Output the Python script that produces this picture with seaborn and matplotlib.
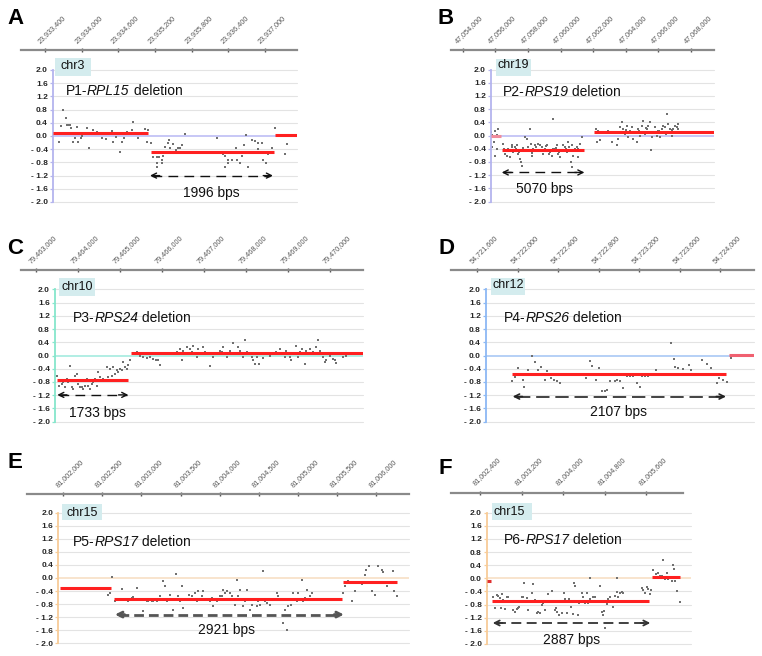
import numpy as np
import pandas as pd
import matplotlib
matplotlib.use("Agg")
import matplotlib.pyplot as plt
import seaborn as sns
from matplotlib.patches import Rectangle
from matplotlib.transforms import offset_copy

sns.set_theme(style="white")
plt.rcParams["font.family"] = ["Liberation Sans", "DejaVu Sans"]

W, H, DPI = 762, 656, 100

# ------------------------------------------------------------------ data
y_ticks = [2.0, 1.6, 1.2, 0.8, 0.4, 0.0, -0.4, -0.8, -1.2, -1.6, -2.0]
y_tick_labels = ["2.0", "1.6", "1.2", "0.8", "0.4", "0.0",
                 "- 0.4", "- 0.8", "- 1.2", "- 1.6", "- 2.0"]

# ---- A : P1 RPL15, chr3
A_chrom, A_patient, A_gene, A_size = "chr3", "P1", "RPL15", "1996 bps"
A_ticks = [23_933_400, 23_934_000, 23_934_600, 23_935_200, 23_935_800, 23_936_400, 23_937_000]
A_tick_labels = ["23,933,400", "23,934,000", "23,934,600", "23,935,200",
                 "23,935,800", "23,936,400", "23,937,000"]
A_pos = [23_933_629, 23_933_662, 23_933_699, 23_933_739, 23_933_755, 23_933_793, 23_933_809,
         23_933_825, 23_933_853, 23_933_891, 23_933_924, 23_933_945, 23_933_989, 23_934_010,
         23_934_082, 23_934_125, 23_934_180, 23_934_207, 23_934_246, 23_934_272, 23_934_328,
         23_934_400, 23_934_440, 23_934_491, 23_934_517, 23_934_557, 23_934_589, 23_934_627,
         23_934_665, 23_934_697, 23_934_737, 23_934_818, 23_934_835, 23_934_861, 23_934_926,
         23_935_036, 23_935_080, 23_935_064, 23_935_134,
         23_935_172, 23_935_227, 23_935_231, 23_935_240, 23_935_265, 23_935_309, 23_935_319,
         23_935_335, 23_935_363, 23_935_407, 23_935_434, 23_935_445, 23_935_499, 23_935_538,
         23_935_571, 23_935_609, 23_935_636, 23_935_690,
         23_936_209, 23_936_263, 23_936_312, 23_936_345, 23_936_389, 23_936_350, 23_936_395,
         23_936_454, 23_936_520, 23_936_536, 23_936_590, 23_936_618, 23_936_661, 23_936_689,
         23_936_716, 23_936_791, 23_936_836, 23_936_890, 23_936_880, 23_936_955, 23_936_972,
         23_937_011, 23_937_044, 23_937_081, 23_937_109, 23_937_163, 23_937_326, 23_937_354]
A_val = [-0.17, 0.30, 0.80, 0.54, 0.33, 0.33, 0.33,
         0.25, -0.17, -0.07, 0.27, -0.17, -0.07, 0.00,
         0.23, -0.37, 0.18, 0.05, 0.12, 0.08, -0.07,
         -0.10, 0.10, 0.16, -0.17, -0.03, 0.05, -0.47,
         -0.17, -0.07, 0.12, 0.18, 0.43, 0.06, -0.07,
         0.21, 0.18, -0.17, -0.20,
         -0.63, -0.63, -0.93, -0.83, -0.63, -0.72, -0.83,
         -0.60, -0.32, -0.22, -0.12, -0.37, -0.25, -0.42,
         -0.37, -0.37, -0.27, 0.05,
         -0.05, -0.47, -0.55, -0.60, -0.72, -0.93, -0.83,
         -0.72, -0.35, -0.72, -0.83, -0.60, -0.27, 0.03,
         -0.95, -0.12, -0.15, -0.22, -0.40, -0.22, -0.72,
         -0.83, -0.55, -0.50, -0.37, 0.23, -0.55, -0.25]
A_seg_start = [23_933_531, 23_935_134, 23_937_163]
A_seg_end = [23_935_085, 23_937_147, 23_937_523]
A_seg_val = [0.08, -0.49, 0.04]
A_arrow = [23_935_118, 23_937_130, -1.20]

# ---- B : P2 RPS19, chr19
B_chrom, B_patient, B_gene, B_size = "chr19", "P2", "RPS19", "5070 bps"
B_ticks = [47_054_000, 47_056_000, 47_058_000, 47_060_000, 47_062_000, 47_064_000, 47_066_000, 47_068_000]
B_tick_labels = ["47,054,000", "47,056,000", "47,058,000", "47,060,000",
                 "47,062,000", "47,064,000", "47,066,000", "47,068,000"]
B_pos = [47_055_736, 47_055_818, 47_055_879, 47_055_982, 47_056_084, 47_056_186, 47_055_941,
         47_055_818, 47_056_084, 47_055_982,
         47_056_493, 47_056_595, 47_056_697, 47_056_800, 47_056_902, 47_057_004, 47_057_106,
         47_057_209, 47_057_311, 47_057_413, 47_057_515, 47_057_577, 47_057_618, 47_057_720,
         47_057_822, 47_057_924, 47_058_027, 47_058_129, 47_058_190, 47_058_231, 47_058_333,
         47_058_436, 47_058_538, 47_058_640, 47_058_742, 47_058_845, 47_058_947, 47_059_049,
         47_059_151, 47_059_254, 47_059_356, 47_059_458, 47_059_560, 47_059_663, 47_059_765,
         47_059_867, 47_059_969, 47_060_072, 47_060_174, 47_060_276, 47_060_378, 47_060_481,
         47_060_583, 47_060_644, 47_060_685, 47_060_726, 47_060_787, 47_060_890, 47_060_992,
         47_061_094, 47_061_196, 47_061_299, 47_061_401,
         47_056_540, 47_056_750, 47_057_050, 47_057_260, 47_057_460, 47_057_680, 47_057_980,
         47_058_280, 47_058_490, 47_058_690, 47_058_900, 47_059_100, 47_059_300, 47_059_520,
         47_059_720, 47_059_920, 47_060_120, 47_060_330, 47_060_540, 47_060_840, 47_061_040,
         47_062_157, 47_062_219, 47_062_321, 47_062_423, 47_062_935, 47_063_139, 47_063_446,
         47_063_548, 47_063_650, 47_063_753, 47_063_855, 47_063_957, 47_064_059, 47_064_162,
         47_064_264, 47_064_366, 47_064_468, 47_064_571, 47_064_673, 47_064_775, 47_064_877,
         47_064_980, 47_065_082, 47_065_184, 47_065_286, 47_065_389, 47_065_491, 47_065_532,
         47_065_593, 47_065_695, 47_065_798, 47_065_900, 47_066_002, 47_066_104, 47_066_207,
         47_066_309, 47_066_411, 47_066_513, 47_066_575, 47_066_616, 47_066_718, 47_066_820,
         47_066_922, 47_067_025, 47_067_127, 47_067_188, 47_067_229,
         47_063_700, 47_064_000, 47_064_420, 47_064_820, 47_065_240, 47_065_640, 47_066_060,
         47_066_460, 47_066_860, 47_067_080]
B_val = [0.10, 0.02, -0.05, 0.15, 0.02, 0.20, -0.20,
         -0.35, -0.40, -0.61,
         -0.25, -0.56, -0.61, -0.40, -0.66, -0.30, -0.51,
         -0.35, -0.30, -0.56, -0.71, -0.81, -0.91, -0.45,
         -0.05, -0.10, -0.35, 0.20, -0.25, -0.61, -0.40,
         -0.30, -0.45, -0.25, -0.30, -0.35, -0.56, -0.40,
         -0.30, -0.45, -0.51, -0.61, 0.51, -0.40, -0.30,
         -0.56, -0.66, -0.45, -0.30, -0.35, -0.51, -0.20,
         -0.45, -0.81, -0.30, -0.96, -0.61, -0.40, -0.35,
         -0.66, -0.25, -0.05, -0.45,
         -0.40, -0.48, -0.35, -0.42, -0.50, -0.38, -0.46,
         -0.52, -0.36, -0.44, -0.48, -0.33, -0.55, -0.42,
         -0.38, -0.50, -0.44, -0.40, -0.36, -0.48, -0.42,
         0.20, -0.20, 0.15, -0.15, 0.15, -0.20, -0.30,
         -0.10, 0.25, 0.40, 0.20, 0.05, 0.30, -0.05,
         0.15, 0.25, -0.10, 0.10, -0.20, 0.20, 0.00,
         0.30, 0.45, 0.05, 0.20, 0.30, 0.40, -0.45,
         -0.05, 0.10, 0.25, 0.00, 0.15, -0.05, 0.20,
         0.30, 0.25, 0.66, 0.35, 0.10, 0.20, 0.00,
         0.20, 0.30, 0.25, 0.35, 0.20,
         0.12, 0.18, 0.08, 0.15, 0.22, 0.10, 0.14,
         0.05, 0.18, 0.12]
B_seg_start = [47_055_736, 47_056_393, 47_062_074]
B_seg_end = [47_056_350, 47_061_449, 47_069_418]
B_seg_val = [-0.03, -0.45, 0.10]
B_arrow = [47_056_393, 47_061_462, -1.12]

# ---- C : P3 RPS24, chr10
C_chrom, C_patient, C_gene, C_size = "chr10", "P3", "RPS24", "1733 bps"
C_ticks = [79_463_000, 79_464_000, 79_465_000, 79_466_000, 79_467_000, 79_468_000, 79_469_000, 79_470_000]
C_tick_labels = ["79,463,000", "79,464,000", "79,465,000", "79,466,000",
                 "79,467,000", "79,468,000", "79,469,000", "79,470,000"]
C_pos = [79_463_507, 79_463_555, 79_463_611, 79_463_650, 79_463_690, 79_463_730, 79_463_769,
         79_463_809, 79_463_848, 79_463_888, 79_463_928, 79_463_967, 79_464_007, 79_464_047,
         79_464_086, 79_464_126, 79_464_166, 79_464_205, 79_464_245, 79_464_285, 79_464_324,
         79_464_364, 79_464_404, 79_464_443, 79_464_483, 79_464_523, 79_464_562, 79_464_602,
         79_464_641, 79_464_681, 79_464_721, 79_464_760, 79_464_800, 79_464_840, 79_464_879,
         79_464_919, 79_464_959, 79_464_998, 79_465_038, 79_465_078, 79_465_117, 79_465_157,
         79_465_197, 79_465_236,
         79_465_411, 79_465_474, 79_465_553, 79_465_633, 79_465_712, 79_465_791, 79_465_855,
         79_465_910, 79_465_950, 79_466_029, 79_466_148, 79_466_346, 79_466_426, 79_466_465,
         79_466_505, 79_466_584, 79_466_664, 79_466_703, 79_466_743, 79_466_822, 79_466_862,
         79_466_941, 79_466_981, 79_467_020, 79_467_139, 79_467_219, 79_467_298, 79_467_377,
         79_467_417, 79_467_457, 79_467_536, 79_467_615, 79_467_679, 79_467_734, 79_467_813,
         79_467_853, 79_467_917, 79_467_972, 79_468_012, 79_468_091, 79_468_131, 79_468_170,
         79_468_210, 79_468_250, 79_468_313, 79_468_408, 79_468_488, 79_468_567, 79_468_646,
         79_468_725, 79_468_805, 79_468_884, 79_468_924, 79_468_963, 79_469_043, 79_469_082,
         79_469_122, 79_469_185, 79_469_241, 79_469_281, 79_469_344, 79_469_399, 79_469_439,
         79_469_518, 79_469_598, 79_469_677, 79_469_717, 79_469_756, 79_469_796, 79_469_836,
         79_469_875, 79_469_915, 79_469_994, 79_470_074, 79_470_113, 79_470_153, 79_470_232,
         79_470_311, 79_470_391, 79_470_430]
C_val = [-0.61, -0.91, -0.86, -0.81, -0.96, -0.71, -0.81,
         -0.32, -0.96, -1.01, -0.61, -0.56, -0.86, -0.96,
         -0.96, -1.01, -0.91, -0.71, -0.91, -1.01, -0.86,
         -0.81, -0.71, -0.91, -0.51, -0.66, -0.76, -0.71,
         -0.76, -0.35, -0.66, -0.40, -0.61, -0.35, -0.56,
         -0.45, -0.51, -0.40, -0.45, -0.20, -0.35, -0.40,
         -0.30, -0.15,
         0.10, -0.03, -0.05, -0.07, -0.05, -0.10, -0.15,
         -0.13, -0.30, 0.05, 0.05, 0.10, 0.20, -0.15,
         0.15, 0.25, 0.20, 0.10, 0.30, -0.05, 0.20,
         0.05, 0.25, 0.10, -0.33, -0.05, 0.05, 0.13,
         0.10, 0.25, -0.05, 0.15, 0.38, 0.05, 0.27,
         0.15, -0.05, 0.47, 0.10, 0.05, -0.05, -0.15,
         -0.25, -0.05, -0.27, -0.07, 0.05, 0.00, 0.05,
         0.10, 0.20, 0.05, -0.05, 0.15, -0.05, -0.15,
         0.05, 0.30, -0.05, 0.10, 0.20, -0.27, 0.15,
         0.20, 0.10, 0.25, 0.47, 0.15, 0.05, -0.05,
         -0.20, -0.15, 0.00, -0.10, -0.15, -0.23, 0.05,
         -0.05, 0.00, 0.05]
C_seg_start = [79_463_493, 79_465_261]
C_seg_end = [79_465_197, 79_470_783]
C_seg_val = [-0.74, 0.08]
C_arrow = [79_463_507, 79_465_197, -1.19]

# ---- D : P4 RPS26, chr12
D_chrom, D_patient, D_gene, D_size = "chr12", "P4", "RPS26", "2107 bps"
D_ticks = [54_721_600, 54_722_000, 54_722_400, 54_722_800, 54_723_200, 54_723_600, 54_724_000]
D_tick_labels = ["54,721,600", "54,722,000", "54,722,400", "54,722,800",
                 "54,723,200", "54,723,600", "54,724,000"]
D_pos = [54_721_942, 54_721_975, 54_722_002, 54_722_051, 54_722_067, 54_722_107, 54_722_140,
         54_722_173, 54_722_205, 54_722_232, 54_722_271, 54_722_294, 54_722_327, 54_722_360,
         54_722_393, 54_722_419, 54_722_643, 54_722_676, 54_722_715, 54_722_731, 54_722_774,
         54_722_807, 54_722_830, 54_722_863, 54_722_886, 54_722_912, 54_722_962, 54_722_978,
         54_723_011, 54_723_044, 54_723_077, 54_723_110, 54_723_142, 54_723_175, 54_723_208,
         54_723_225, 54_723_258, 54_723_290, 54_723_366, 54_723_511, 54_723_544, 54_723_553,
         54_723_586, 54_723_636, 54_723_695, 54_723_708, 54_723_817, 54_723_866, 54_723_905,
         54_723_964, 54_723_991, 54_724_030, 54_724_063, 54_724_106, 54_724_145]
D_val = [-0.76, -0.66, -0.37, -0.74, -0.94, -0.44, -0.03,
         -0.19, -0.44, -0.35, -0.74, -0.48, -0.68, -0.74,
         -0.78, -0.82, -0.59, -0.68, -0.17, -0.33, -0.74,
         -0.38, -1.06, -1.06, -1.04, -0.78, -0.78, -0.74,
         -0.78, -0.99, -0.61, -0.61, -0.61, -0.84, -0.96,
         -0.61, -0.61, -0.61, -0.44, 0.39, -0.10, -0.35,
         -0.38, -0.42, -0.30, -0.43, -0.13, -0.27, -0.38,
         -0.84, -0.68, -0.74, -0.79, -0.07, 0.00]
D_seg_start = [54_721_945, 54_724_089]
D_seg_end = [54_724_056, 54_724_332]
D_seg_val = [-0.55, 0.02]
D_arrow = [54_721_952, 54_724_056, -1.24]

# ---- E : P5 RPS17, chr15
E_chrom, E_patient, E_gene, E_size = "chr15", "P5", "RPS17", "2921 bps"
E_ticks = [81_002_000, 81_002_500, 81_003_000, 81_003_500, 81_004_000,
           81_004_500, 81_005_000, 81_005_500, 81_006_000]
E_tick_labels = ["81,002,000", "81,002,500", "81,003,000", "81,003,500", "81,004,000",
                 "81,004,500", "81,005,000", "81,005,500", "81,006,000"]
E_pos = [81_002_576, 81_002_597, 81_002_619, 81_002_661, 81_002_683, 81_002_725, 81_002_747,
         81_002_789, 81_002_832, 81_002_874, 81_002_896, 81_002_938, 81_002_981, 81_003_024,
         81_003_066, 81_003_088, 81_003_130, 81_003_152, 81_003_194, 81_003_237, 81_003_279,
         81_003_301, 81_003_322, 81_003_343, 81_003_365, 81_003_407, 81_003_441, 81_003_471,
         81_003_493, 81_003_514, 81_003_535, 81_003_578, 81_003_612, 81_003_642, 81_003_684,
         81_003_706, 81_003_727, 81_003_770, 81_003_791, 81_003_834, 81_003_876, 81_003_898,
         81_003_919, 81_003_962, 81_004_004, 81_004_025, 81_004_047, 81_004_068, 81_004_089,
         81_004_132, 81_004_153, 81_004_196, 81_004_217, 81_004_239, 81_004_260, 81_004_303,
         81_004_324, 81_004_345, 81_004_388, 81_004_409, 81_004_430, 81_004_473, 81_004_494,
         81_004_516, 81_004_550, 81_004_580, 81_004_601, 81_004_622, 81_004_644, 81_004_686,
         81_004_729, 81_004_750, 81_004_771, 81_004_814, 81_004_835, 81_004_857, 81_004_878,
         81_004_908, 81_004_942, 81_004_985, 81_005_006, 81_005_049, 81_005_070, 81_005_091,
         81_005_113, 81_005_155, 81_005_176,
         81_005_573, 81_005_603, 81_005_645, 81_005_688, 81_005_731, 81_005_816, 81_005_859,
         81_005_871, 81_005_914, 81_005_944, 81_005_986, 81_006_029, 81_006_072, 81_006_093,
         81_006_136, 81_006_213, 81_006_234, 81_006_268]
E_val = [-0.51, -0.46, 0.03, -0.71, -0.66, -0.68, -0.34,
         -0.64, -0.71, -0.61, -0.58, -0.31, -0.64, -1.02,
         -0.71, -0.71, -0.71, -0.71, -0.71, -0.56, -0.10,
         -0.26, -0.71, -0.64, -0.51, -0.97, 0.13, -0.54,
         -0.71, -0.23, -0.92, -0.66, -0.51, -0.56, -0.46,
         -0.71, -0.41, -0.56, -0.41, -0.66, -0.71, -0.61,
         -0.87, -0.71, -0.56, -0.56, -0.36, -0.46, -0.41,
         -0.46, -0.56, -0.82, -0.05, -0.56, -0.36, -0.87,
         -0.71, -0.36, -0.97, -0.82, -0.66, -0.87, -0.71,
         -0.82, 0.20, -0.71, -0.77, -0.64, -0.82, -0.64,
         -0.46, -0.56, -0.66, -1.38, -0.97, -1.60, -0.87,
         -0.82, -0.46, -0.71, -0.46, -0.07, -0.71, -0.61,
         -0.38, -0.56, -0.46,
         -0.46, -0.26, -0.10, -0.71, -0.41, -0.17, 0.10,
         0.26, 0.36, -0.41, -0.51, 0.38, 0.26, 0.17,
         -0.26, 0.20, -0.41, -0.56]
E_seg_start = [81_001_958, 81_002_652, 81_005_581]
E_seg_end = [81_002_610, 81_005_561, 81_006_268]
E_seg_val = [-0.31, -0.63, -0.13]
E_arrow = [81_002_660, 81_005_590, -1.12]

# ---- F : P6 RPS17, chr15
F_chrom, F_patient, F_gene, F_size = "chr15", "P6", "RPS17", "2887 bps"
F_ticks = [81_002_400, 81_003_200, 81_004_000, 81_004_800, 81_005_600]
F_tick_labels = ["81,002,400", "81,003,200", "81,004,000", "81,004,800", "81,005,600"]
F_pos = [81_002_541, 81_002_657, 81_002_689, 81_002_721, 81_002_753, 81_002_786, 81_002_798,
         81_002_818, 81_002_850, 81_002_882, 81_002_914, 81_002_946, 81_002_991, 81_003_043,
         81_003_075, 81_003_107, 81_003_139, 81_003_158, 81_003_203, 81_003_223, 81_003_255,
         81_003_300, 81_003_332, 81_003_364, 81_003_396, 81_003_428, 81_003_460, 81_003_493,
         81_003_525, 81_003_557, 81_003_589, 81_003_621, 81_003_653, 81_003_718, 81_003_750,
         81_003_782, 81_003_814, 81_003_846, 81_003_865, 81_003_891, 81_003_930, 81_003_975,
         81_004_020, 81_004_039, 81_004_071, 81_004_103, 81_004_122, 81_004_148, 81_004_187,
         81_004_212, 81_004_232, 81_004_264, 81_004_296, 81_004_315, 81_004_360, 81_004_392,
         81_004_425, 81_004_457, 81_004_489, 81_004_521, 81_004_553, 81_004_585, 81_004_617,
         81_004_682, 81_004_714, 81_004_746, 81_004_778, 81_004_797, 81_004_810, 81_004_842,
         81_004_874, 81_004_907, 81_004_939, 81_004_971, 81_005_003, 81_005_035, 81_005_067,
         81_005_099, 81_005_131, 81_005_164, 81_004_525, 81_005_040,
         81_005_517, 81_005_549, 81_005_581, 81_005_614, 81_005_646, 81_005_678, 81_005_697,
         81_005_742, 81_005_793, 81_005_838, 81_005_871, 81_005_903, 81_005_935, 81_005_967,
         81_005_999, 81_006_031, 81_006_095, 81_006_115, 81_006_140, 81_006_160, 81_006_205,
         81_006_256]
F_val = [-0.23, -0.56, -0.91, -0.51, -0.54, -0.61, -0.91,
         -0.49, -0.66, -0.94, -0.58, -0.56, -0.71, -0.96,
         -1.04, -0.94, -0.91, -0.86, -0.58, -0.56, -0.15,
         -0.59, -0.96, -0.71, -0.46, -0.18, -0.66, -1.07,
         -1.04, -1.07, -0.81, -0.76, -0.96, -0.49, -0.69,
         -0.38, -0.71, -0.96, -0.91, -1.02, -1.12, -1.07,
         -0.44, -0.64, -1.07, -0.71, -0.64, -0.86, -1.09,
         -0.15, -0.23, -0.71, -1.12, -0.76, -0.46, -0.56,
         -0.74, -0.46, -0.76, -0.64, -0.71, -0.56, -0.56,
         -0.71, -0.23, -1.02, -1.12, -0.99, -1.52, -0.79,
         -0.64, -0.58, -0.71, -0.86, -0.54, -0.41, -0.58,
         -0.44, -0.41, -0.46, 0.00, 0.02,
         -0.30, -0.36, -0.46, -0.25, -0.33, -0.49, -0.36,
         0.25, 0.13, 0.17, 0.07, 0.07, 0.56, -0.03,
         0.17, -0.03, -0.07, 0.41, 0.30, -0.07, -0.39,
         -0.71]
F_seg_start = [81_002_535, 81_002_631, 81_005_710]
F_seg_end = [81_002_612, 81_005_664, 81_006_262]
F_seg_val = [-0.08, -0.69, 0.03]
F_arrow = [81_002_645, 81_005_683, -1.36]

# ------------------------------------------------------------------ layout (pixels)
LAYOUT = {
    "A": dict(ruler=(21, 297, 50), main=(53, 297, 70, 202), cal=(45, 265), letter=(15, 18),
              box=(55, 91, 58.3, 76), chr_xy=(60.5, 69), title_xy=(65.5, 95), size_xy=(211, 196.5),
              axis="#b4b4ee", zero="#b8b8f4", seg_colors=["#ff2020", "#ff2020", "#ff2020"],
              arrow_color="#111111", arrow_lw=1.0, dash=(7, 4.5)),
    "B": dict(ruler=(451, 714, 50), main=(491, 714, 69.5, 201.5), cal=(462.7, 691), letter=(446, 19),
              box=(496, 531, 59, 76), chr_xy=(497.5, 68.5), title_xy=(502.7, 95.7), size_xy=(545, 192.7),
              axis="#b4b4ee", zero="#b8b8f4", seg_colors=["#f08c9c", "#ff2020", "#ff2020"],
              arrow_color="#111111", arrow_lw=1.0, dash=(7, 4.5)),
    "C": dict(ruler=(21, 363, 270), main=(55, 363, 289.3, 421.7), cal=(36, 330), letter=(15.5, 248),
              box=(59.3, 95, 278.3, 296), chr_xy=(61.7, 290), title_xy=(72.7, 321.7), size_xy=(97.5, 417.3),
              axis="#86e6cc", zero="#9ceadc", seg_colors=["#ff2020", "#ff2020"],
              arrow_color="#111111", arrow_lw=1.0, dash=(7, 4.5)),
    "D": dict(ruler=(451, 754, 270), main=(486, 754, 289.3, 421.7), cal=(477, 720.3), letter=(446, 248),
              box=(491, 525, 278.3, 295), chr_xy=(492.7, 288.5), title_xy=(503.7, 321.7), size_xy=(618.5, 416),
              axis="#8cb8f4", zero="#a2c4f4", seg_colors=["#ff2020", "#f06070"],
              arrow_color="#222222", arrow_lw=1.2, dash=(8, 3.5)),
    "E": dict(ruler=(27, 409, 494.3), main=(58.3, 409, 512.7, 643.3), cal=(63.3, 376), letter=(14.5, 462),
              box=(61.7, 101.7, 504.3, 520), chr_xy=(66.7, 516), title_xy=(72.7, 546), size_xy=(227, 634),
              axis="#f8cc98", zero="#f6dcc0", seg_colors=["#ff2020", "#ff2020", "#ff2020"],
              arrow_color="#555555", arrow_lw=2.0, dash=(3.5, 1.8)),
    "F": dict(ruler=(451, 683, 492.7), main=(487, 691, 512.7, 644), cal=(480, 646), letter=(445, 468),
              box=(492, 531.7, 503.3, 520), chr_xy=(494, 515), title_xy=(503.7, 544), size_xy=(571.5, 644),
              axis="#f8cc98", zero="#f6dcc0", seg_colors=["#e03030", "#ff2020", "#ff2020"],
              arrow_color="#333333", arrow_lw=1.3, dash=(5.5, 3)),
}

PANELS = {
    "A": dict(chrom=A_chrom, patient=A_patient, gene=A_gene, size=A_size, ticks=A_ticks,
              tick_labels=A_tick_labels, pos=A_pos, val=A_val, s0=A_seg_start, s1=A_seg_end,
              sv=A_seg_val, arrow=A_arrow),
    "B": dict(chrom=B_chrom, patient=B_patient, gene=B_gene, size=B_size, ticks=B_ticks,
              tick_labels=B_tick_labels, pos=B_pos, val=B_val, s0=B_seg_start, s1=B_seg_end,
              sv=B_seg_val, arrow=B_arrow),
    "C": dict(chrom=C_chrom, patient=C_patient, gene=C_gene, size=C_size, ticks=C_ticks,
              tick_labels=C_tick_labels, pos=C_pos, val=C_val, s0=C_seg_start, s1=C_seg_end,
              sv=C_seg_val, arrow=C_arrow),
    "D": dict(chrom=D_chrom, patient=D_patient, gene=D_gene, size=D_size, ticks=D_ticks,
              tick_labels=D_tick_labels, pos=D_pos, val=D_val, s0=D_seg_start, s1=D_seg_end,
              sv=D_seg_val, arrow=D_arrow),
    "E": dict(chrom=E_chrom, patient=E_patient, gene=E_gene, size=E_size, ticks=E_ticks,
              tick_labels=E_tick_labels, pos=E_pos, val=E_val, s0=E_seg_start, s1=E_seg_end,
              sv=E_seg_val, arrow=E_arrow),
    "F": dict(chrom=F_chrom, patient=F_patient, gene=F_gene, size=F_size, ticks=F_ticks,
              tick_labels=F_tick_labels, pos=F_pos, val=F_val, s0=F_seg_start, s1=F_seg_end,
              sv=F_seg_val, arrow=F_arrow),
}


def fx(px):
    return px / W


def fy(py):
    return 1 - py / H


fig = plt.figure(figsize=(W / DPI, H / DPI), dpi=DPI)
fig.patch.set_facecolor("white")
renderer = fig.canvas.get_renderer()

for key, d in PANELS.items():
    L = LAYOUT[key]
    ticks = d["ticks"]
    c0, c1 = L["cal"]
    scale = (ticks[-1] - ticks[0]) / (c1 - c0)

    def px2bp(p):
        return ticks[0] + (p - c0) * scale

    # ---------------- ruler (genomic coordinate axis)
    rx0, rx1, ry = L["ruler"]
    rax = fig.add_axes([fx(rx0), fy(ry), (rx1 - rx0) / W, 20 / H])
    rax.set_xlim(px2bp(rx0), px2bp(rx1))
    rax.set_ylim(0, 1)
    rax.patch.set_alpha(0)
    for s in ["top", "left", "right"]:
        rax.spines[s].set_visible(False)
    rax.spines["bottom"].set_color("#8a8a8a")
    rax.spines["bottom"].set_linewidth(1.6)
    rax.set_yticks([])
    rax.set_xticks(ticks)
    rax.tick_params(axis="x", direction="inout", length=3, width=1, color="#555555",
                    labelbottom=False, bottom=True)
    trans = offset_copy(rax.transData, fig=fig, x=-5, y=7, units="dots")
    for t, lab in zip(ticks, d["tick_labels"]):
        rax.text(t, 0, lab, transform=trans, rotation=45, rotation_mode="anchor",
                 ha="left", va="baseline", fontsize=5.2, color="#555555", clip_on=False)

    # ---------------- main data axes
    mx0, mx1, mtop, mbot = L["main"]
    ax = fig.add_axes([fx(mx0), fy(mbot), (mx1 - mx0) / W, (mbot - mtop) / H])
    ax.set_xlim(px2bp(mx0), px2bp(mx1))
    ax.set_ylim(-2.0, 2.0)
    ax.patch.set_alpha(0)
    for yt in y_ticks:
        if yt == 0:
            ax.axhline(yt, color=L["zero"], lw=1.1, zorder=1)
        else:
            ax.axhline(yt, color="#e3e3e3", lw=0.8, zorder=0, clip_on=False)
    for s in ["top", "right", "bottom"]:
        ax.spines[s].set_visible(False)
    ax.spines["left"].set_color(L["axis"])
    ax.spines["left"].set_linewidth(1.3)
    ax.set_xticks([])
    ax.set_yticks(y_ticks)
    ax.set_yticklabels(y_tick_labels, fontweight="bold")
    ax.tick_params(axis="y", left=True, length=2.5, width=0.9, color=L["axis"],
                   labelsize=6, pad=1.2, labelcolor="#262626")
    ax.grid(False)

    df = pd.DataFrame({"pos": d["pos"], "log2": d["val"]})
    sns.scatterplot(data=df, x="pos", y="log2", ax=ax, s=2.6, marker="s",
                    color="#707070", linewidth=0, legend=False, zorder=2)
    ax.set_xlabel("")
    ax.set_ylabel("")

    ax.hlines(d["sv"], d["s0"], d["s1"], colors=L["seg_colors"], lw=2.2, zorder=3)

    a0, a1, ay = d["arrow"]
    ax.hlines(ay, a0 + (a1 - a0) * 0.02, a1 - (a1 - a0) * 0.02, colors=L["arrow_color"],
              lw=L["arrow_lw"], linestyles=[(0, L["dash"])], zorder=3)
    for xe, off in [(a1, -7), (a0, 7)]:
        ax.annotate("", xy=(xe, ay), xytext=(off, 0), textcoords="offset points",
                    arrowprops=dict(arrowstyle="->", color=L["arrow_color"], lw=L["arrow_lw"],
                                    shrinkA=0, shrinkB=0, mutation_scale=9))

    # ---------------- annotations
    bx0, bx1, by0, by1 = L["box"]
    fig.patches.append(Rectangle((fx(bx0), fy(by1)), (bx1 - bx0) / W, (by1 - by0) / H,
                                 transform=fig.transFigure, facecolor="#d4ecee",
                                 edgecolor="none", zorder=5))
    fig.text(fx(L["chr_xy"][0]), fy(L["chr_xy"][1]), d["chrom"], fontsize=9,
             ha="left", va="baseline", color="#111111", zorder=6)

    # title: "P1-" + italic gene + " deletion"
    tx = L["title_xy"][0]
    ty = fy(L["title_xy"][1])
    for piece, style in [(d["patient"] + "-", "normal"), (d["gene"], "italic"),
                         (" deletion", "normal")]:
        t = fig.text(fx(tx), ty, piece, fontsize=10, fontstyle=style,
                     ha="left", va="baseline", color="#111111")
        bb = t.get_window_extent(renderer=renderer)
        tx = tx + bb.width

    fig.text(fx(L["size_xy"][0]), fy(L["size_xy"][1]), d["size"], fontsize=10,
             ha="center", va="baseline", color="#111111")
    fig.text(fx(L["letter"][0]), fy(L["letter"][1]), key, fontsize=16, fontweight="bold",
             ha="center", va="center", color="black")

fig.savefig("out.png", dpi=DPI, facecolor="white")
